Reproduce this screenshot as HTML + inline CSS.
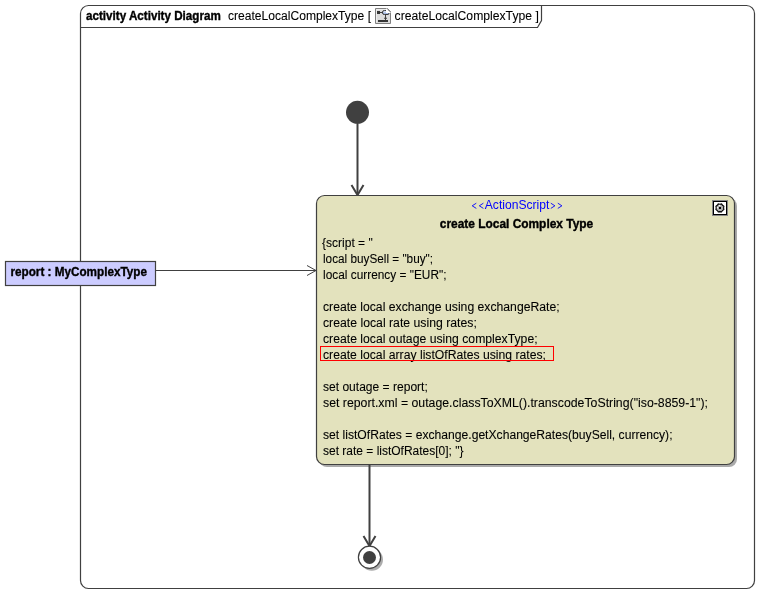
<!DOCTYPE html>
<html><head><meta charset="utf-8">
<style>
html,body{margin:0;padding:0;background:#fff;width:769px;height:603px;overflow:hidden}
svg{display:block;will-change:transform}
text{font-family:"Liberation Sans",sans-serif;font-size:12px;fill:#000;stroke:#000;stroke-width:0.08}
.b{font-weight:bold;stroke:#000;stroke-width:0.35}
</style></head><body>
<svg width="769" height="603" viewBox="0 0 769 603">
<defs>
<filter id="sh" x="-10%" y="-10%" width="130%" height="130%"><feGaussianBlur stdDeviation="0.6"/></filter>
</defs>
<!-- frame -->
<path d="M88.5,5.5 H746.5 A8,8 0 0 1 754.5,13.5 V580.5 A8,8 0 0 1 746.5,588.5 H88.5 A8,8 0 0 1 80.5,580.5 V13.5 A8,8 0 0 1 88.5,5.5 Z" fill="#fff" stroke="#404040" stroke-width="1.2"/>
<!-- tab -->
<path d="M80.5,27.5 H537.5 L541.5,20.5 V5.5" fill="none" stroke="#404040" stroke-width="1.2"/>
<text x="86" y="19.5" class="b" textLength="134.8" lengthAdjust="spacingAndGlyphs">activity Activity Diagram</text>
<text x="228" y="19.5" textLength="143" lengthAdjust="spacingAndGlyphs">createLocalComplexType [</text>
<text x="394.6" y="19.5" textLength="144.2" lengthAdjust="spacingAndGlyphs">createLocalComplexType ]</text>
<!-- header icon -->
<g>
<path d="M375.5,8.5 H387.5 L390.5,11.5 V23.5 H375.5 Z" fill="#dcdcdc" stroke="#808080"/>
<path d="M376.5,9.5 H387 M376.5,9.5 V22.5" stroke="#eeeeee" fill="none"/>
<defs><linearGradient id="bg1" x1="0" y1="0" x2="0" y2="1"><stop offset="0" stop-color="#e4ecfa"/><stop offset="1" stop-color="#8ea6d6"/></linearGradient></defs>
<rect x="377" y="11" width="3" height="3" fill="#353535"/>
<path d="M380,12.5 H382.5" stroke="#404040"/>
<path d="M382.5,12 Q382.5,10.5 384.5,10.5 H388 Q389,10.5 389,11.5 V13 Q389,14.5 388,14.5 H384.5 Q382.5,14.5 382.5,13 Z" fill="url(#bg1)" stroke="#383838"/>
<path d="M386,8 L391,13 H386 Z" fill="#ffffff"/>
<path d="M387,8.5 L390.5,12" stroke="#8a8a8a" stroke-width="0.8" fill="none"/>
<path d="M385.5,14.5 V20" stroke="#404040"/>
<ellipse cx="385.5" cy="18.3" rx="1.6" ry="0.7" fill="#404040"/>
<rect x="378" y="20" width="10" height="2" fill="#353535"/>
</g>

<!-- initial node -->
<circle cx="357.5" cy="112.3" r="11.5" fill="#404040"/>
<path d="M357.5,123 V194.5" stroke="#404040" stroke-width="2"/>
<path d="M351.5,185 L357.5,195 L363.5,185" fill="none" stroke="#404040" stroke-width="2"/>

<!-- action shadow -->
<rect x="319" y="198" width="418" height="269" rx="8" fill="#aaaaaa"/>
<!-- action -->
<rect x="316.5" y="195.5" width="418" height="269" rx="8" fill="#e3e2bd" stroke="#404040" stroke-width="1.2"/>
<text x="484.8" y="209.3" style="fill:#0000ff;stroke:none" textLength="64.6" lengthAdjust="spacingAndGlyphs">ActionScript</text>
<path d="M476.3,203.2 L472.2,205.8 L476.3,208.4 M483.4,203.2 L479.3,205.8 L483.4,208.4 M550.8,203.2 L554.9,205.8 L550.8,208.4 M557.8,203.2 L561.9,205.8 L557.8,208.4" fill="none" stroke="#0000ff" stroke-width="0.9"/>
<text x="516.5" y="227.8" text-anchor="middle" class="b" textLength="153.4" lengthAdjust="spacingAndGlyphs">create Local Complex Type</text>
<!-- settings icon -->
<rect x="712" y="200" width="16" height="16" fill="#888"/>
<rect x="713" y="201" width="14" height="14" fill="#000"/>
<rect x="714" y="202" width="12" height="12" fill="#fff"/>
<path d="M721.55,203.93 L722.52,205.28 L723.87,206.25 L723.60,207.90 L723.87,209.55 L722.52,210.52 L721.55,211.87 L719.90,211.60 L718.25,211.87 L717.28,210.52 L715.93,209.55 L716.20,207.90 L715.93,206.25 L717.28,205.28 L718.25,203.93 L719.90,204.20 Z" fill="#b0b0b0" stroke="#000" stroke-width="1.1"/><circle cx="719.6" cy="205.5" r="0.7" fill="#fff"/><circle cx="717.5" cy="207.7" r="0.7" fill="#fff"/>
<rect x="719" y="207" width="2" height="2" fill="#000"/>

<!-- body text -->
<text x="322" y="247" textLength="50.7" lengthAdjust="spacingAndGlyphs">{script = "</text>
<text x="323" y="263" textLength="110" lengthAdjust="spacingAndGlyphs">local buySell = "buy";</text>
<text x="323" y="279" textLength="123.5" lengthAdjust="spacingAndGlyphs">local currency = "EUR";</text>
<text x="323" y="311" textLength="236.6" lengthAdjust="spacingAndGlyphs">create local exchange using exchangeRate;</text>
<text x="323" y="327" textLength="153.8" lengthAdjust="spacingAndGlyphs">create local rate using rates;</text>
<text x="323" y="343" textLength="214.6" lengthAdjust="spacingAndGlyphs">create local outage using complexType;</text>
<text x="323" y="359" textLength="223" lengthAdjust="spacingAndGlyphs">create local array listOfRates using rates;</text>
<rect x="320.5" y="346.5" width="233" height="14" fill="none" stroke="#ff0000" stroke-width="1"/>
<text x="323" y="391" textLength="104.8" lengthAdjust="spacingAndGlyphs">set outage = report;</text>
<text x="323" y="407" textLength="385" lengthAdjust="spacingAndGlyphs">set report.xml = outage.classToXML().transcodeToString("iso-8859-1");</text>
<text x="323" y="439" textLength="349.5" lengthAdjust="spacingAndGlyphs">set listOfRates = exchange.getXchangeRates(buySell, currency);</text>
<text x="323" y="455" textLength="140.5" lengthAdjust="spacingAndGlyphs">set rate = listOfRates[0]; "}</text>

<!-- object node -->
<rect x="5.5" y="261.5" width="150" height="24" fill="#ccccff" stroke="#404040" stroke-width="1.2"/>
<text x="10.5" y="276" class="b" textLength="136.4" lengthAdjust="spacingAndGlyphs">report : MyComplexType</text>
<path d="M156,270.5 H316" stroke="#404040" stroke-width="1"/>
<path d="M307,265.5 L316,270.5 L307,275.5" fill="none" stroke="#404040" stroke-width="1"/>

<!-- control flow to final -->
<path d="M369.5,465 V545" stroke="#404040" stroke-width="2"/>
<path d="M363.5,536 L369.5,546 L375.5,536" fill="none" stroke="#404040" stroke-width="2"/>

<!-- final node -->
<circle cx="371.8" cy="559.6" r="11.2" fill="#acacac"/>
<circle cx="369.5" cy="557.3" r="11.1" fill="#fff" stroke="#404040" stroke-width="1.2"/>
<circle cx="369.5" cy="557.5" r="6.5" fill="#404040"/>
</svg>
</body></html>
